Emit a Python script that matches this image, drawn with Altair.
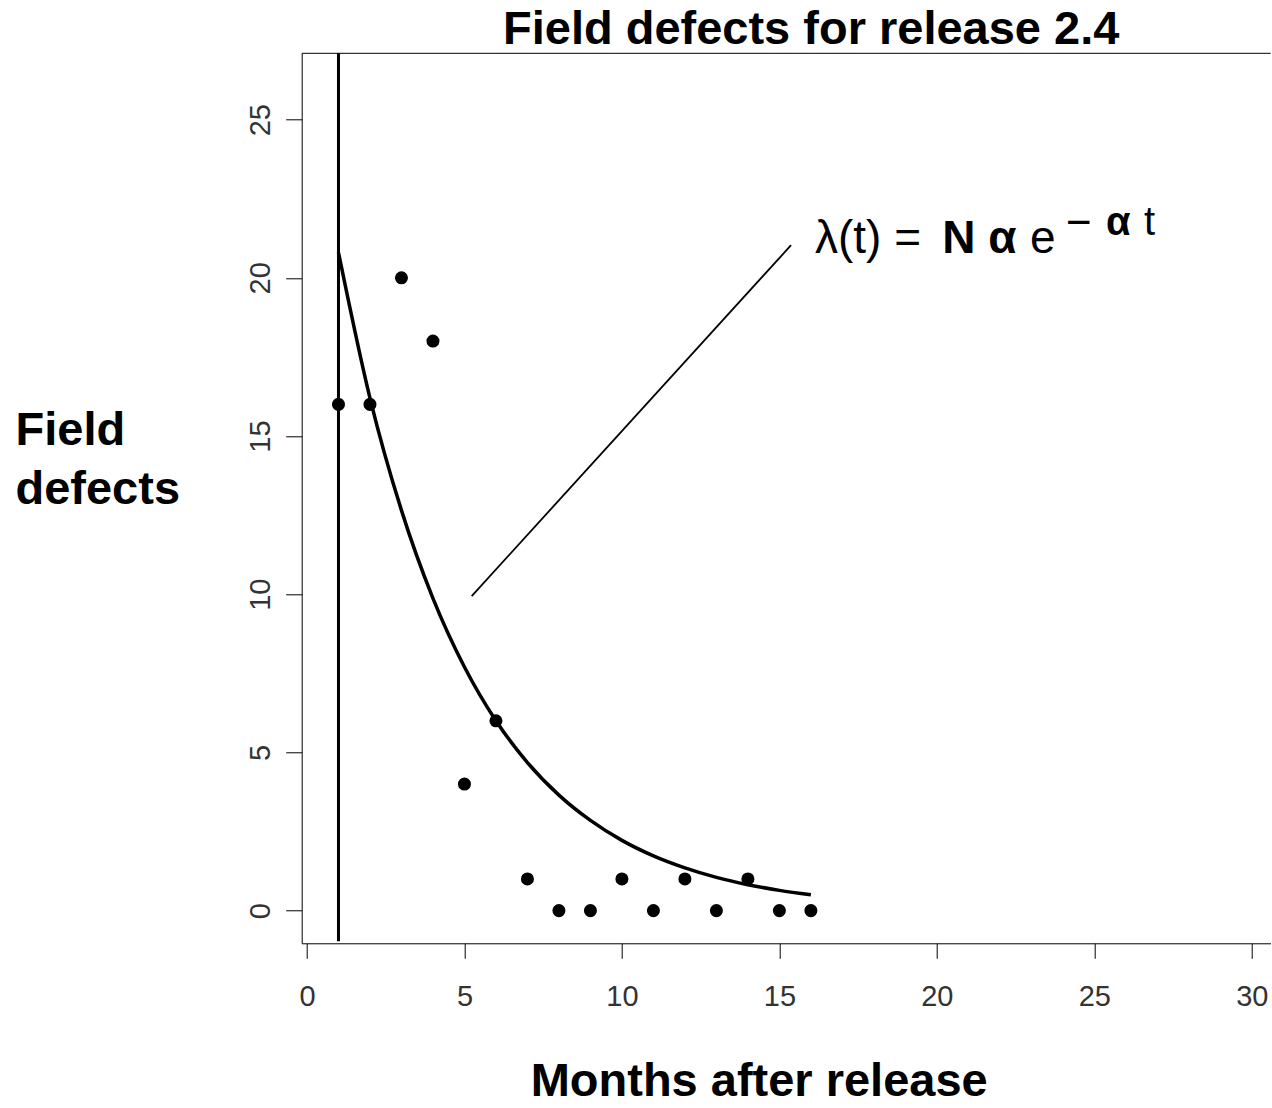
import altair as alt
import pandas as pd

# ---- data ----
months = list(range(1, 17))
defects = [16, 16, 20, 18, 4, 6, 1, 0, 0, 1, 0, 1, 0, 1, 0, 0]

fit_months = list(range(1, 17))
fit_values = [20.8, 16.2, 12.65, 9.87, 7.70, 6.00, 4.68, 3.65, 2.85, 2.22,
              1.73, 1.35, 1.05, 0.82, 0.64, 0.50]

x_ticks = [0, 5, 10, 15, 20, 25, 30]
y_ticks = [0, 5, 10, 15, 20, 25]

TITLE = "Field defects for release 2.4"

# ---- layout constants ----
X_MIN, X_MAX = -0.168, 30.60
Y_MIN, Y_MAX = -1.033, 27.096
W, H = 969, 890

pts = pd.DataFrame({"month": months, "defects": defects})
fit = pd.DataFrame({"month": fit_months, "rate": fit_values})

xscale = alt.Scale(domain=[X_MIN, X_MAX], nice=False, zero=False)
yscale = alt.Scale(domain=[Y_MIN, Y_MAX], nice=False, zero=False)

label_font = "Liberation Sans"
bold_font = "Liberation Sans"

x_axis = alt.Axis(
    title="Months after release", values=x_ticks, grid=False,
    domainColor="black", domainWidth=1, tickColor="black", tickWidth=1, tickSize=15,
    labelFont=label_font, labelFontSize=29, labelColor="#333", labelBaseline="top",
    labelPadding=24, labelFlush=False, labelOverlap=False,
    titleFont=bold_font, titleFontSize=47, titleFontWeight="bold", titleColor="black",
    titleX=457, titleY=152, titleAlign="center", titleBaseline="alphabetic",
)
y_axis = alt.Axis(
    title=["Field", "defects"], values=y_ticks, grid=False,
    domainColor="black", domainWidth=1, tickColor="black", tickWidth=1, tickSize=16,
    labelFont=label_font, labelFontSize=29, labelColor="#333", labelAngle=270,
    labelAlign="center", labelBaseline="alphabetic", labelPadding=15.7,
    labelFlush=False, labelOverlap=False,
    titleFont=bold_font, titleFontSize=47, titleFontWeight="bold", titleColor="black",
    titleAngle=0, titleAlign="left", titleBaseline="alphabetic",
    titleX=-286.7, titleY=391.7, titleLineHeight=59,
)

points = alt.Chart(pts).mark_circle(size=170, color="black", opacity=1).encode(
    x=alt.X("month:Q", scale=xscale, axis=x_axis),
    y=alt.Y("defects:Q", scale=yscale, axis=y_axis),
)

curve = alt.Chart(fit).mark_line(color="black", strokeWidth=3.5, interpolate="monotone").encode(
    x=alt.X("month:Q", scale=xscale, axis=x_axis),
    y=alt.Y("rate:Q", scale=yscale, axis=y_axis),
)

vline = alt.Chart().mark_rule(color="black", strokeWidth=3).encode(
    x=alt.XDatum(1, scale=xscale, axis=x_axis),
    y=alt.YDatum(-0.97, scale=yscale, axis=y_axis),
    y2=alt.Y2Datum(Y_MAX),
)

pointer = alt.Chart().mark_rule(color="black", strokeWidth=1.8).encode(
    x=alt.XDatum(5.23, scale=xscale, axis=x_axis),
    y=alt.YDatum(9.94, scale=yscale, axis=y_axis),
    x2=alt.X2Datum(15.37),
    y2=alt.Y2Datum(21.03),
)

top_border = alt.Chart().mark_rule(color="black", strokeWidth=1).encode(
    x=alt.XDatum(X_MIN, scale=xscale, axis=x_axis),
    x2=alt.X2Datum(X_MAX),
    y=alt.YDatum(Y_MAX, scale=yscale, axis=y_axis),
)

title_mark = alt.Chart().mark_text(
    text=TITLE, align="center", baseline="alphabetic", font=bold_font,
    fontSize=47, fontWeight="bold", color="black",
).encode(x=alt.value(509.5), y=alt.value(-9))

def label(txt, x, y, size, bold=False):
    return alt.Chart().mark_text(
        text=txt, align="left", baseline="alphabetic", font="Liberation Sans",
        fontSize=size, fontWeight="bold" if bold else "normal", color="black",
    ).encode(
        x=alt.XDatum(x, scale=xscale, axis=x_axis),
        y=alt.YDatum(y, scale=yscale, axis=y_axis),
    )

formula = [
    label("λ(t) =", 16.13, 20.78, 46),
    label("N α", 20.17, 20.78, 46, bold=True),
    label("e", 22.96, 20.78, 46),
    label("−", 24.10, 21.30, 44),
    label("α", 25.37, 21.34, 40, bold=True),
    label("t", 26.58, 21.34, 40),
]

chart = alt.layer(points, curve, vline, pointer, top_border, title_mark, *formula).properties(
    width=W, height=H,
    background="white",
    autosize=alt.AutoSizeParams(type="none"),
    padding={"left": 301.7, "top": 53.3, "right": 0, "bottom": 164},
).configure_view(stroke=None)

chart.save("out.html", embed_options={"renderer": "svg", "actions": False})
